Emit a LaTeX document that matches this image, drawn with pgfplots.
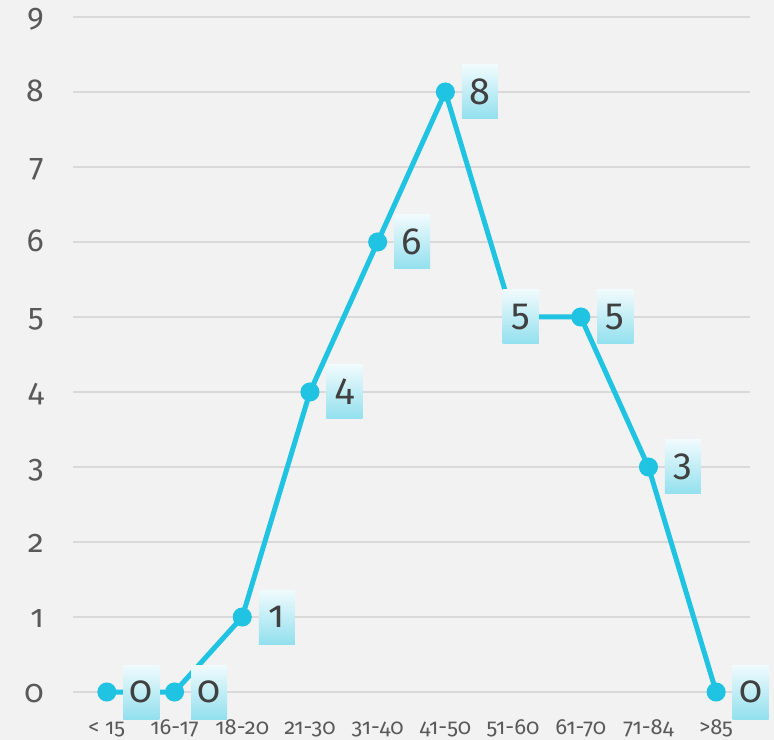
\documentclass[border=0pt]{standalone}
\usepackage{fontspec}
\setmainfont{Fira Sans}[Numbers=OldStyle]
\usepackage{pgfplots}
\pgfplotsset{compat=1.18}
\usepackage{pgfplotstable}
\definecolor{bgc}{HTML}{F2F2F2}
\definecolor{gridc}{HTML}{D9D9D9}
\definecolor{linec}{RGB}{33,195,226}
\definecolor{tickc}{HTML}{595959}
\definecolor{labc}{HTML}{404040}
\definecolor{boxtop}{HTML}{F0FBFD}
\definecolor{boxbot}{HTML}{92E0EE}

\pgfplotstableread{
x y dx lab
0 0 14 0
1 0 14 0
2 1 14 1
3 4 14 4
4 6 14 6
5 8 14 8
6 5 -13 5
7 5 14 5
8 3 14 3
9 0 14 0
}\data

\begin{document}
\begin{tikzpicture}
\fill[bgc] (-73bp,-48bp) rectangle (701bp,692bp);
\begin{axis}[
  at={(0,0)}, anchor=south west,
  width=677bp, height=675bp, scale only axis,
  xmin=-0.5, xmax=9.5, ymin=0, ymax=9,
  xtick={0,...,9},
  xticklabels={< 15,16-17,18-20,21-30,31-40,41-50,51-60,61-70,71-84,>85},
  ytick={0,...,9},
  ymajorgrids,
  grid style={gridc, line width=2bp},
  axis line style={draw=none},
  major tick length=0pt,
  clip=false,
  /pgf/number format/assume math mode=true,
  yticklabel style={font=\fontsize{32}{36}\selectfont, text=tickc, anchor=base east, inner sep=0pt, xshift=-29bp, yshift=-10bp},
  xticklabel style={font=\fontsize{22}{26}\selectfont, text=tickc, anchor=base, inner sep=0pt, yshift=-42.5bp},
]
\addplot[linec, line width=5bp, mark=*, mark size=7bp,
  mark options={draw=none, fill=linec},
  visualization depends on={\thisrow{dx} \as \dx},
  point meta=explicit symbolic,
  nodes near coords,
  nodes near coords style={anchor=west, xshift=\dx*1bp, font=\fontsize{38}{42}\selectfont, text=labc,
    top color=boxtop, bottom color=boxbot, draw=none,
    minimum width=36bp, minimum height=54bp, inner sep=0pt},
] table[x=x, y=y, meta=lab] {\data};
\end{axis}
\pgfresetboundingbox
\path (-73bp,-48bp) rectangle (701bp,692bp);
\end{tikzpicture}
\end{document}
